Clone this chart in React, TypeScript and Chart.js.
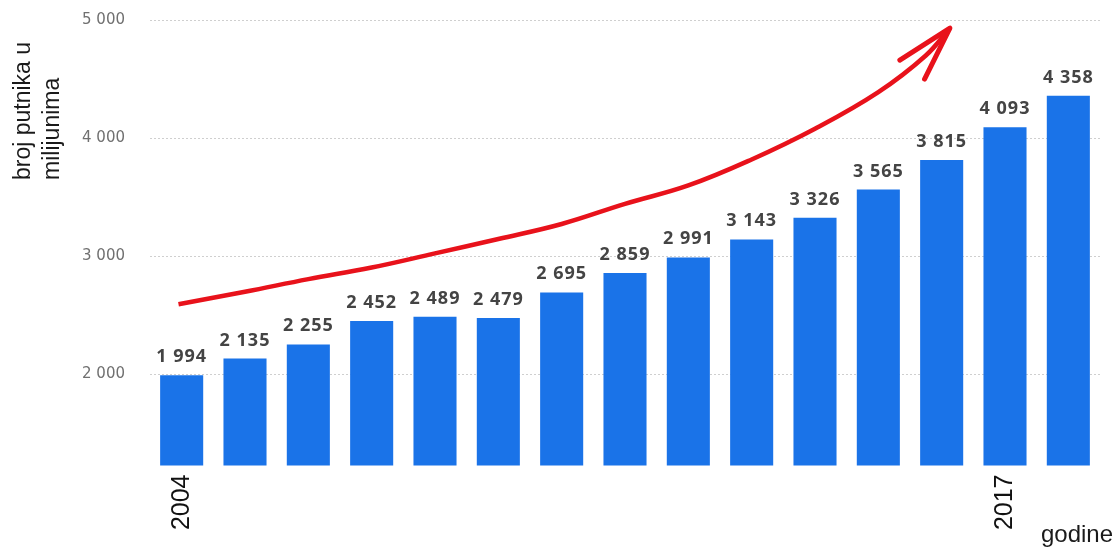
import React, { useEffect, useRef } from "react";
import { Chart, registerables } from "chart.js";

Chart.register(...registerables);

const years = ["2004", "2005", "2006", "2007", "2008", "2009", "2010", "2011", "2012", "2013", "2014", "2015", "2016", "2017", "2018"];
const passengers = [1994, 2135, 2255, 2452, 2489, 2479, 2695, 2859, 2991, 3143, 3326, 3565, 3815, 4093, 4358];
const shownYears = ["2004", "2017"];
const yTicks = [2000, 3000, 4000, 5000];
const yTitleLines = ["broj putnika u", "milijunima"];
const xTitle = "godine";
// hand-drawn trend arrow (x = category index, y = value)
const arrowShaft = [
  { x: -0.05, y: 2595 },
  { x: 1, y: 2700 },
  { x: 2, y: 2807 },
  { x: 3, y: 2905 },
  { x: 4, y: 3025 },
  { x: 5, y: 3147 },
  { x: 6, y: 3274 },
  { x: 7, y: 3444 },
  { x: 8, y: 3600 },
  { x: 9, y: 3820 },
  { x: 10, y: 4080 },
  { x: 11, y: 4390 },
  { x: 11.75, y: 4700 },
  { x: 12.13, y: 4931 },
];
const arrowHead = [
  { x: 11.34, y: 4660 },
  { x: 12.13, y: 4931 },
  { x: 11.73, y: 4500 },
];

const fmt = (v: number) => {
  const s = String(Math.round(v));
  return s.replace(/\B(?=(\d{3})+(?!\d))/g, " ");
};

export default function App() {
  const ref = useRef<HTMLCanvasElement | null>(null);
  useEffect(() => {
    document.body.style.margin = "0";
    const canvas = ref.current;
    if (!canvas) return;

    const labelPlugin = {
      id: "valueLabels",
      afterDatasetsDraw(chart: any) {
        const ctx = chart.ctx;
        const meta = chart.getDatasetMeta(2);
        ctx.save();
        ctx.font = "bold 18px 'Open Sans', Arial, sans-serif";
        (ctx as any).letterSpacing = "1px";
        ctx.fillStyle = "#444444";
        ctx.textAlign = "center";
        ctx.textBaseline = "alphabetic";
        meta.data.forEach((el: any, i: number) => {
          ctx.fillText(fmt(passengers[i]), el.x, el.y - 13);
        });
        ctx.restore();
      },
    };

    const titlePlugin = {
      id: "titles",
      afterDraw(chart: any) {
        const ctx = chart.ctx;
        ctx.save();
        ctx.fillStyle = "#1a1a1a";
        ctx.font = "23px Arial, 'Liberation Sans', sans-serif";
        ctx.textAlign = "left";
        ctx.textBaseline = "middle";
        const xs = [24, 53];
        yTitleLines.forEach((line, i) => {
          ctx.save();
          ctx.translate(xs[i], 180);
          ctx.rotate(-Math.PI / 2);
          ctx.fillText(line, 0, 0);
          ctx.restore();
        });
        ctx.font = "24px Arial, 'Liberation Sans', sans-serif";
        ctx.textAlign = "right";
        ctx.textBaseline = "alphabetic";
        ctx.fillText(xTitle, 1113, 542);
        ctx.restore();
      },
    };

    const chart = new Chart(canvas, {
      type: "bar",
      data: {
        labels: years,
        datasets: [
          {
            type: "line",
            data: arrowShaft as any,
            xAxisID: "xa",
            borderColor: "#e8121b",
            borderWidth: 4.5,
            pointRadius: 0,
            tension: 0.4,
            fill: false,
            clip: false as any,
            order: 0,
          } as any,
          {
            type: "line",
            data: arrowHead as any,
            xAxisID: "xa",
            borderColor: "#e8121b",
            borderWidth: 5,
            pointRadius: 0,
            tension: 0,
            fill: false,
            clip: false as any,
            borderJoinStyle: "round",
            borderCapStyle: "round",
            order: 0,
          } as any,
          {
            type: "bar",
            data: passengers,
            backgroundColor: "#1a73e8",
            borderWidth: 0,
            grouped: false,
            categoryPercentage: 0.68,
            barPercentage: 1,
            order: 1,
          } as any,
        ],
      },
      options: {
        animation: false,
        responsive: true,
        maintainAspectRatio: false,
        layout: { padding: { top: 20, right: 18, left: 0, bottom: 0 } },
        plugins: { legend: { display: false }, tooltip: { enabled: false } },
        scales: {
          x: {
            type: "category",
            offset: true,
            grid: { display: false, drawTicks: false },
            border: { display: false },
            ticks: {
              autoSkip: false,
              minRotation: 90,
              maxRotation: 90,
              padding: 9,
              color: "#111111",
              font: { family: "Arial, 'Liberation Sans', sans-serif", size: 25 },
              callback: (_v: any, i: number) => (shownYears.includes(years[i]) ? years[i] : ""),
            },
            afterFit: (s: any) => {
              s.height = 82.5;
              s.paddingLeft = 0;
              s.paddingRight = 0;
            },
          },
          xa: {
            type: "linear",
            axis: "x",
            position: "bottom",
            display: false,
            offset: false,
            grid: { offset: false },
            min: -0.5,
            max: 14.5,
            afterFit: (s: any) => {
              s.paddingLeft = 0;
              s.paddingRight = 0;
            },
          },
          y: {
            min: 1230,
            max: 5000,
            afterBuildTicks: (s: any) => {
              s.ticks = yTicks.map((v) => ({ value: v }));
            },
            afterFit: (s: any) => {
              s.width = 150;
              s.paddingTop = 0;
              s.paddingBottom = 0;
            },
            grid: {
              color: "#cfcfcf",
              lineWidth: 1,
              drawTicks: false,
            },
            border: { display: false, dash: [2, 2] },
            ticks: {
              padding: 25,
              color: "#707070",
              font: { family: "'DejaVu Sans', sans-serif", size: 15 },
              callback: (v: any) => fmt(Number(v)),
            },
          },
        },
      } as any,
      plugins: [labelPlugin, titlePlugin],
    });
    return () => chart.destroy();
  }, []);

  return (
    <div style={{ position: "relative", width: 1118, height: 548, background: "#ffffff" }}>
      <canvas ref={ref} />
    </div>
  );
}
